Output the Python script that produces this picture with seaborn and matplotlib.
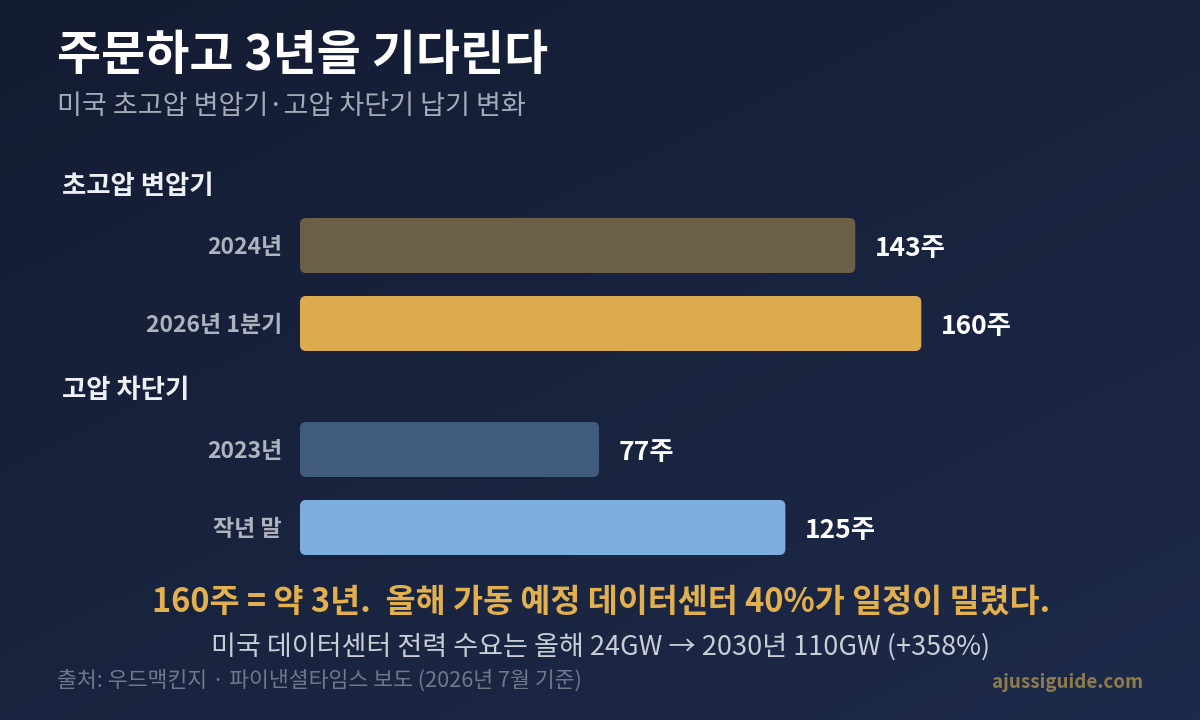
import numpy as np
import pandas as pd
import matplotlib
import matplotlib.pyplot as plt
import matplotlib.colors as mcolors
from matplotlib.patches import FancyBboxPatch
from matplotlib.transforms import IdentityTransform
import seaborn as sns

sns.set_theme(style="white")
plt.rcParams["font.family"] = ["Noto Sans CJK KR", "DejaVu Sans"]

# data
transformer_periods = ["2024년", "2026년 1분기"]
transformer_weeks = [143, 160]
breaker_periods = ["2023년", "작년 말"]
breaker_weeks = [77, 125]

transformer_colors = ["#6b5f48", "#dcab4e"]
breaker_colors = ["#415b7d", "#7eaee0"]

title = "주문하고 3년을 기다린다"
subtitle = "미국 초고압 변압기·고압 차단기 납기 변화"
group_titles = ["초고압 변압기", "고압 차단기"]
note_main = "160주 = 약 3년.  올해 가동 예정 데이터센터 40%가 일정이 밀렸다."
note_sub = "미국 데이터센터 전력 수요는 올해 24GW → 2030년 110GW (+358%)"
source = "출처: 우드맥킨지 · 파이낸셜타임스 보도 (2026년 7월 기준)"
brand = "ajussiguide.com"

W, H = 1200, 720
fig = plt.figure(figsize=(W / 100, H / 100), dpi=100)


def fx(x):
    return x / W


def fy(y):
    return 1 - y / H


## background gradient
bg = fig.add_axes([0, 0, 1, 1], zorder=-10)
gx, gy = np.meshgrid(np.linspace(0, 1, 300), np.linspace(0, 1, 180))
grad = 0.55 * gy + 0.45 * gx
bg_cmap = mcolors.LinearSegmentedColormap.from_list("bg", ["#141c33", "#1d2a49"])
bg.imshow(grad, cmap=bg_cmap, aspect="auto", extent=[0, 1, 0, 1], origin="upper")
bg.set_axis_off()

## bar panels
xmax = 200
panel_w = xmax * 3.883 / W


def draw_panel(ax, periods, weeks, colors):
    df = pd.DataFrame({"period": periods, "weeks": weeks})
    sns.barplot(
        data=df, x="weeks", y="period", hue="period", palette=colors,
        orient="h", width=0.705, legend=False, ax=ax, saturation=1,
    )
    for cont in ax.containers:
        labels = ax.bar_label(cont, fmt="{:.0f}주", padding=14, color="white",
                              fontsize=19, fontweight="bold")
        for t in labels:
            t.set_va("center_baseline")
    ax.set_xlim(0, xmax)
    ax.set_ylim(1.5, -0.5)
    ax.set_xlabel("")
    ax.set_ylabel("")
    ax.set_xticks([])
    ax.tick_params(axis="y", length=0, pad=13, labelsize=16.5, labelcolor="#aeb3be")
    for lab in ax.get_yticklabels():
        lab.set_fontweight("bold")
    ax.set_facecolor("none")
    sns.despine(ax=ax, left=True, bottom=True)


ax1 = fig.add_axes([fx(300), fy(362.5), panel_w, 156 / H])
ax2 = fig.add_axes([fx(300), fy(566.5), panel_w, 156 / H])
draw_panel(ax1, transformer_periods, transformer_weeks, transformer_colors)
draw_panel(ax2, breaker_periods, breaker_weeks, breaker_colors)

# swap the flat rectangles for rounded ones
fig.canvas.draw()
for ax in (ax1, ax2):
    for p in list(ax.patches):
        bb = p.get_window_extent()
        fig.patches.append(FancyBboxPatch(
            (bb.x0, bb.y0), bb.width, bb.height,
            boxstyle="round,pad=0,rounding_size=6",
            facecolor=p.get_facecolor(), edgecolor="none",
            transform=IdentityTransform(), figure=fig, zorder=2,
        ))
        p.set_visible(False)

## texts
fig.text(fx(57), fy(55), title, color="white", fontsize=34.5, fontweight="bold",
         ha="left", va="center")
fig.text(fx(57), fy(106), subtitle, color="#a3aab8", fontsize=19.5,
         ha="left", va="center")
fig.text(fx(62), fy(187), group_titles[0], color="#eef0f4", fontsize=19,
         fontweight="bold", ha="left", va="center")
fig.text(fx(62), fy(390), group_titles[1], color="#eef0f4", fontsize=19,
         fontweight="bold", ha="left", va="center")
fig.text(fx(601), fy(602), note_main, color="#e3b04f", fontsize=23.5,
         fontweight="bold", ha="center", va="center")
fig.text(fx(601), fy(647), note_sub, color="#c9cdd6", fontsize=19.5,
         ha="center", va="center")
fig.text(fx(57), fy(681), source, color="#6f798c", fontsize=15.6,
         ha="left", va="center")
fig.text(fx(1143), fy(682), brand, color="#8f7c4c", fontsize=13.5,
         fontweight="bold", ha="right", va="center")

fig.savefig("out.png", dpi=100)
